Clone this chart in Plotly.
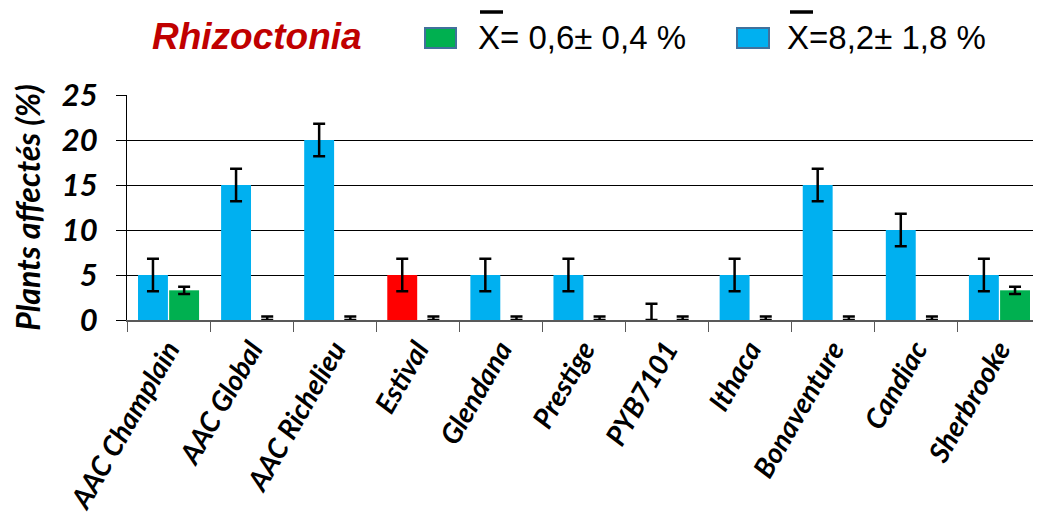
import plotly.graph_objects as go

categories = ["AAC Champlain", "AAC Global", "AAC Richelieu", "Estival", "Glendana",
              "Prestige", "PYB7101", "Ithaca", "Bonaventure", "Candiac", "Sherbrooke"]
blue_values = [5, 15, 20, 5, 5, 5, 0, 5, 15, 10, 5]
blue_err = [1.8, 1.8, 1.8, 1.8, 1.8, 1.8, 1.8, 1.8, 1.8, 1.8, 1.8]
green_values = [3.3, 0, 0, 0, 0, 0, 0, 0, 0, 0, 3.3]
green_err = [0.4, 0.4, 0.4, 0.4, 0.4, 0.4, 0.4, 0.4, 0.4, 0.4, 0.4]
blue_name = "X=8,2± 1,8 %"
green_name = "X= 0,6± 0,4 %"
title_text = "Rhizoctonia"
y_title = "Plants affectés (%)"
y_ticks = [0, 5, 10, 15, 20, 25]

BLUE = "#00B0F0"
GREEN = "#00B050"
RED = "#FF0000"
blue_colors = [RED if c == "Estival" else BLUE for c in categories]
blue_minus = [e if v > 0 else 0 for v, e in zip(blue_values, blue_err)]
green_minus = [e if v > 0 else 0 for v, e in zip(green_values, green_err)]

OFF = 8  # page body margin
W, H = 1041, 520
L, T = 127 - OFF, 95 - OFF
R = W - (1041 - OFF)
B = H - (320 - OFF)
PW, PH = W - L - R, H - T - B


def px(sx):
    return (sx - OFF - L) / PW


def py(sy):
    return (H - B - (sy - OFF)) / PH


fig = go.Figure()
fig.add_trace(go.Bar(
    x=categories, y=blue_values, name=blue_name, showlegend=False,
    marker=dict(color=blue_colors, line=dict(width=0)),
    error_y=dict(type="data", array=blue_err, arrayminus=blue_minus,
                 color="black", thickness=2.5, width=6),
))
fig.add_trace(go.Bar(
    x=categories, y=green_values, name=green_name, showlegend=False,
    marker=dict(color=GREEN, line=dict(width=0)),
    error_y=dict(type="data", array=green_err, arrayminus=green_minus,
                 color="black", thickness=2.5, width=6),
))

LEG_FONT = dict(family="Liberation Sans, Arial", size=33, color="black")
annotations = [
    dict(text=f"<b><i>{title_text}</i></b>", x=px(257), y=py(36), xanchor="center", yanchor="middle",
         xref="paper", yref="paper", showarrow=False,
         font=dict(family="Liberation Sans, Arial", size=37, color="#C00000")),
    dict(text=green_name, x=px(476), y=py(38), xanchor="left", yanchor="middle",
         xref="paper", yref="paper", showarrow=False, font=LEG_FONT),
    dict(text=blue_name, x=px(785), y=py(38), xanchor="left", yanchor="middle",
         xref="paper", yref="paper", showarrow=False, font=LEG_FONT),
]

shapes = []
for (x0, x1, col) in [(425, 456, GREEN), (737, 769, BLUE)]:
    shapes.append(dict(type="rect", xref="paper", yref="paper",
                       x0=px(x0), x1=px(x1), y0=py(48), y1=py(28),
                       fillcolor=col, line=dict(color="#41719C", width=2)))
for x0, x1 in [(480, 503), (790, 813)]:
    shapes.append(dict(type="line", xref="paper", yref="paper",
                       x0=px(x0), x1=px(x1), y0=py(12), y1=py(12),
                       line=dict(color="black", width=3.5)))

fig.update_layout(
    width=W, height=H,
    margin=dict(l=L, r=R, t=T, b=B),
    paper_bgcolor="white", plot_bgcolor="white",
    barmode="group", bargap=0.25, bargroupgap=0.04,
    showlegend=False,
    font=dict(family="Lato, Calibri, sans-serif", color="black"),
    annotations=annotations, shapes=shapes,
)

fig.update_yaxes(
    range=[0, 25], tickvals=y_ticks, ticks="outside", ticklen=10, tickcolor="black",
    ticklabelstandoff=12,
    showgrid=True, gridcolor="black", gridwidth=1,
    showline=True, linecolor="black", linewidth=1,
    zeroline=False, automargin=False,
    tickfont=dict(family="Lato, Calibri, sans-serif", size=31, color="black", weight="bold", style="italic"),
    title=dict(text=y_title, standoff=12,
               font=dict(family="Lato, Calibri, sans-serif", size=32, color="black", weight="bold", style="italic")),
)
fig.update_xaxes(
    tickangle=-60, ticks="outside", ticklen=10, tickcolor="#595959", tickson="boundaries",
    showline=True, linecolor="#595959", linewidth=2, automargin=False,
    tickfont=dict(family="Lato, Calibri, sans-serif", size=28, color="black", weight="bold", style="italic"),
)

fig.write_html("out.html")
